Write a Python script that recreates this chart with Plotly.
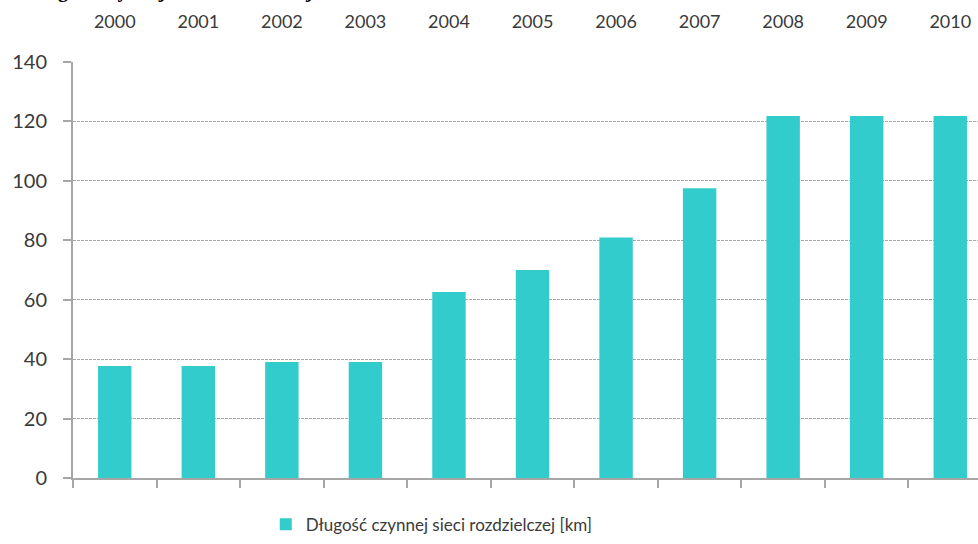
import plotly.graph_objects as go

# Length of the active distribution network per year
years = ["2000", "2001", "2002", "2003", "2004", "2005",
         "2006", "2007", "2008", "2009", "2010"]
length_km = [37.7, 37.7, 39.0, 39.0, 62.6, 70.0, 80.9, 97.5, 121.8, 121.8, 121.8]
series_name = "Długość czynnej sieci rozdzielczej [km]"
title_text = "Długość czynnej sieci rozdzielczej w latach 2000-2010 [km]"

BAR = "#33CCCC"
AXIS = "#a6a6a6"
TEXT = "#3a3a3a"

fig = go.Figure()
fig.add_trace(go.Bar(
    x=years, y=length_km, name=series_name,
    marker=dict(color=BAR, line=dict(width=0)),
    width=0.4, xaxis="x", yaxis="y",
))
# invisible copy on the top axis so the year labels are drawn above the plot
fig.add_trace(go.Scatter(
    x=years, y=length_km, mode="markers", marker=dict(opacity=0),
    showlegend=False, hoverinfo="skip", xaxis="x2", yaxis="y",
))

x_range = [-0.5, 10.332]

fig.update_layout(
    width=978, height=544, autosize=False,
    margin=dict(l=73, r=0, t=62, b=66, pad=0),
    paper_bgcolor="white", plot_bgcolor="white",
    font=dict(family="Lato, 'Open Sans', sans-serif", color=TEXT),
    showlegend=True,
    legend=dict(
        orientation="h", x=0.213, xanchor="left", y=-0.112, yanchor="middle",
        font=dict(size=17, color=TEXT), itemwidth=30,
        bgcolor="rgba(0,0,0,0)",
    ),
    xaxis=dict(
        type="category", categoryorder="array", categoryarray=years,
        range=x_range, showticklabels=False,
        ticks="outside", tickson="boundaries", ticklen=8, tickwidth=2,
        tickcolor=AXIS, showline=True, linecolor=AXIS, linewidth=2,
        showgrid=False, zeroline=False, fixedrange=True,
    ),
    xaxis2=dict(
        type="category", categoryorder="array", categoryarray=years,
        range=x_range, overlaying="x", side="top", matches="x",
        showticklabels=True, ticks="", showline=False, showgrid=False,
        zeroline=False, tickfont=dict(size=18, color=TEXT),
        ticklabelstandoff=29,
    ),
    yaxis=dict(
        range=[0, 140], dtick=20, tick0=0,
        ticks="outside", ticklen=8, tickwidth=2, tickcolor=AXIS,
        showline=True, linecolor=AXIS, linewidth=2,
        showgrid=True, gridcolor="#a8a8a8", gridwidth=1, griddash="3px,1px",
        zeroline=False, tickfont=dict(size=20, color=TEXT),
        ticklabelstandoff=12,
    ),
    annotations=[dict(
        text="<b>" + title_text + "</b>", xref="paper", yref="paper",
        x=-0.053, xanchor="left", y=1.140, yanchor="bottom",
        showarrow=False,
        font=dict(family="'Liberation Serif', 'DejaVu Serif', serif",
                  size=20, color="black"),
    )],
)

fig.write_html("out.html")
